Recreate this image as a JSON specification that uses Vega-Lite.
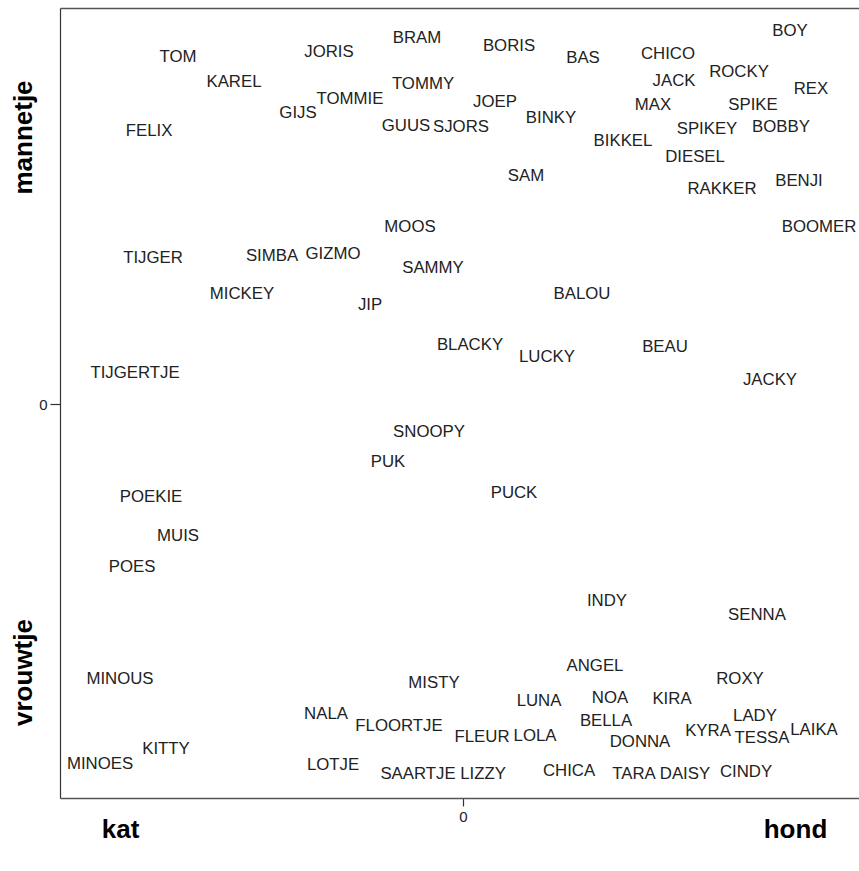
{
  "$schema": "https://vega.github.io/schema/vega-lite/v6.json",
  "width": 799,
  "height": 790,
  "autosize": {"type": "none"},
  "padding": {"left": 60, "top": 8, "right": 0, "bottom": 73},
  "config": {
    "view": {"stroke": null},
    "font": "Liberation Sans",
    "axis": {"grid": false, "title": null}
  },
  "data": {
    "values": [
      {"naam": "TOM", "x": -1.425, "y": 1.735},
      {"naam": "KAREL", "x": -1.145, "y": 1.61},
      {"naam": "JORIS", "x": -0.67, "y": 1.76},
      {"naam": "BRAM", "x": -0.23, "y": 1.83},
      {"naam": "TOMMIE", "x": -0.565, "y": 1.525},
      {"naam": "GIJS", "x": -0.825, "y": 1.455},
      {"naam": "TOMMY", "x": -0.2, "y": 1.6},
      {"naam": "GUUS", "x": -0.285, "y": 1.39},
      {"naam": "SJORS", "x": -0.01, "y": 1.385},
      {"naam": "FELIX", "x": -1.57, "y": 1.365},
      {"naam": "MOOS", "x": -0.265, "y": 0.885},
      {"naam": "TIJGER", "x": -1.55, "y": 0.73},
      {"naam": "SIMBA", "x": -0.955, "y": 0.74},
      {"naam": "GIZMO", "x": -0.65, "y": 0.75},
      {"naam": "SAMMY", "x": -0.15, "y": 0.68},
      {"naam": "MICKEY", "x": -1.105, "y": 0.55},
      {"naam": "JIP", "x": -0.465, "y": 0.495},
      {"naam": "TIJGERTJE", "x": -1.64, "y": 0.155},
      {"naam": "BOY", "x": 1.635, "y": 1.865},
      {"naam": "BORIS", "x": 0.23, "y": 1.79},
      {"naam": "BAS", "x": 0.6, "y": 1.73},
      {"naam": "CHICO", "x": 1.025, "y": 1.75},
      {"naam": "ROCKY", "x": 1.38, "y": 1.66},
      {"naam": "JACK", "x": 1.055, "y": 1.615},
      {"naam": "REX", "x": 1.74, "y": 1.575},
      {"naam": "JOEP", "x": 0.16, "y": 1.51},
      {"naam": "MAX", "x": 0.95, "y": 1.495},
      {"naam": "SPIKE", "x": 1.45, "y": 1.495},
      {"naam": "BINKY", "x": 0.44, "y": 1.43},
      {"naam": "SPIKEY", "x": 1.22, "y": 1.375},
      {"naam": "BOBBY", "x": 1.59, "y": 1.385},
      {"naam": "BIKKEL", "x": 0.8, "y": 1.315},
      {"naam": "DIESEL", "x": 1.16, "y": 1.235},
      {"naam": "SAM", "x": 0.315, "y": 1.14},
      {"naam": "RAKKER", "x": 1.295, "y": 1.075},
      {"naam": "BENJI", "x": 1.68, "y": 1.115},
      {"naam": "BOOMER", "x": 1.78, "y": 0.885},
      {"naam": "BALOU", "x": 0.595, "y": 0.55},
      {"naam": "BLACKY", "x": 0.035, "y": 0.295},
      {"naam": "LUCKY", "x": 0.42, "y": 0.235},
      {"naam": "BEAU", "x": 1.01, "y": 0.285},
      {"naam": "JACKY", "x": 1.535, "y": 0.12},
      {"naam": "SNOOPY", "x": -0.17, "y": -0.14},
      {"naam": "PUK", "x": -0.375, "y": -0.29},
      {"naam": "POEKIE", "x": -1.56, "y": -0.465},
      {"naam": "MUIS", "x": -1.425, "y": -0.66},
      {"naam": "POES", "x": -1.655, "y": -0.815},
      {"naam": "MINOUS", "x": -1.715, "y": -1.375},
      {"naam": "MISTY", "x": -0.145, "y": -1.395},
      {"naam": "NALA", "x": -0.685, "y": -1.55},
      {"naam": "FLOORTJE", "x": -0.32, "y": -1.61},
      {"naam": "KITTY", "x": -1.485, "y": -1.725},
      {"naam": "MINOES", "x": -1.815, "y": -1.8},
      {"naam": "LOTJE", "x": -0.65, "y": -1.805},
      {"naam": "SAARTJE", "x": -0.225, "y": -1.85},
      {"naam": "PUCK", "x": 0.255, "y": -0.445},
      {"naam": "INDY", "x": 0.72, "y": -0.985},
      {"naam": "SENNA", "x": 1.47, "y": -1.055},
      {"naam": "ANGEL", "x": 0.66, "y": -1.31},
      {"naam": "ROXY", "x": 1.385, "y": -1.375},
      {"naam": "LUNA", "x": 0.38, "y": -1.485},
      {"naam": "NOA", "x": 0.735, "y": -1.47},
      {"naam": "KIRA", "x": 1.045, "y": -1.475},
      {"naam": "LADY", "x": 1.46, "y": -1.56},
      {"naam": "BELLA", "x": 0.715, "y": -1.585},
      {"naam": "KYRA", "x": 1.225, "y": -1.635},
      {"naam": "LAIKA", "x": 1.755, "y": -1.63},
      {"naam": "TESSA", "x": 1.495, "y": -1.67},
      {"naam": "FLEUR", "x": 0.095, "y": -1.665},
      {"naam": "LOLA", "x": 0.36, "y": -1.66},
      {"naam": "DONNA", "x": 0.885, "y": -1.69},
      {"naam": "LIZZY", "x": 0.1, "y": -1.85},
      {"naam": "CHICA", "x": 0.53, "y": -1.835},
      {"naam": "TARA", "x": 0.855, "y": -1.85},
      {"naam": "DAISY", "x": 1.11, "y": -1.85},
      {"naam": "CINDY", "x": 1.415, "y": -1.84}
    ]
  },
  "resolve": {"axis": {"x": "independent", "y": "independent"}},
  "layer": [
    {
      "mark": {"type": "text", "fontSize": 16.8, "font": "Liberation Sans", "color": "#222", "align": "center", "baseline": "middle"},
      "encoding": {
        "x": {"field": "x", "type": "quantitative", "scale": {"domain": [-2.015, 1.98], "nice": false, "zero": false},
          "axis": {"orient": "bottom", "values": [0], "tickSize": 8, "tickColor": "#333", "tickWidth": 1.2, "labelFontSize": 15, "labelFont": "Liberation Sans", "labelColor": "#222", "labelPadding": 3, "domainColor": "#555", "domainWidth": 1.5, "labelFlush": false}},
        "y": {"field": "y", "type": "quantitative", "scale": {"domain": [-1.97, 1.98], "nice": false, "zero": false},
          "axis": {"orient": "left", "values": [0], "tickSize": 10, "tickColor": "#333", "tickWidth": 1.2, "labelFontSize": 15, "labelFont": "Liberation Sans", "labelColor": "#222", "labelPadding": 3, "domainColor": "#333", "domainWidth": 1.2, "labelFlush": false}},
        "text": {"field": "naam", "type": "nominal"}
      }
    },
    {
      "mark": {"type": "point", "opacity": 0},
      "encoding": {
        "x": {"field": "x", "type": "quantitative", "scale": {"domain": [-2.015, 1.98], "nice": false, "zero": false},
          "axis": {"orient": "bottom", "values": [-1.715, 1.66], "labelExpr": "datum.value < 0 ? 'kat' : 'hond'", "ticks": false, "tickSize": 0, "domain": false, "labelFontSize": 26, "labelFontWeight": "bold", "labelColor": "#000", "labelPadding": 39, "labelBaseline": "alphabetic", "labelAlign": "center", "labelFlush": false, "labelOverlap": false}},
        "y": {"field": "y", "type": "quantitative", "scale": {"domain": [-1.97, 1.98], "nice": false, "zero": false},
          "axis": {"orient": "left", "values": [1.335, -1.34], "labelExpr": "datum.value > 0 ? 'mannetje' : 'vrouwtje'", "ticks": false, "tickSize": 0, "domain": false, "labelFontSize": 26, "labelFontWeight": "bold", "labelColor": "#000", "labelAngle": -90, "labelPadding": 29, "labelBaseline": "alphabetic", "labelAlign": "center", "labelFlush": false, "labelOverlap": false}}
      }
    },
    {
      "mark": {"type": "point", "opacity": 0},
      "encoding": {
        "x": {"field": "x", "type": "quantitative", "scale": {"domain": [-2.015, 1.98], "nice": false, "zero": false},
          "axis": {"orient": "top", "labels": false, "ticks": false, "domain": true, "domainColor": "#555", "domainWidth": 1.5}},
        "y": {"field": "y", "type": "quantitative", "scale": {"domain": [-1.97, 1.98], "nice": false, "zero": false}, "axis": null}
      }
    }
  ]
}
